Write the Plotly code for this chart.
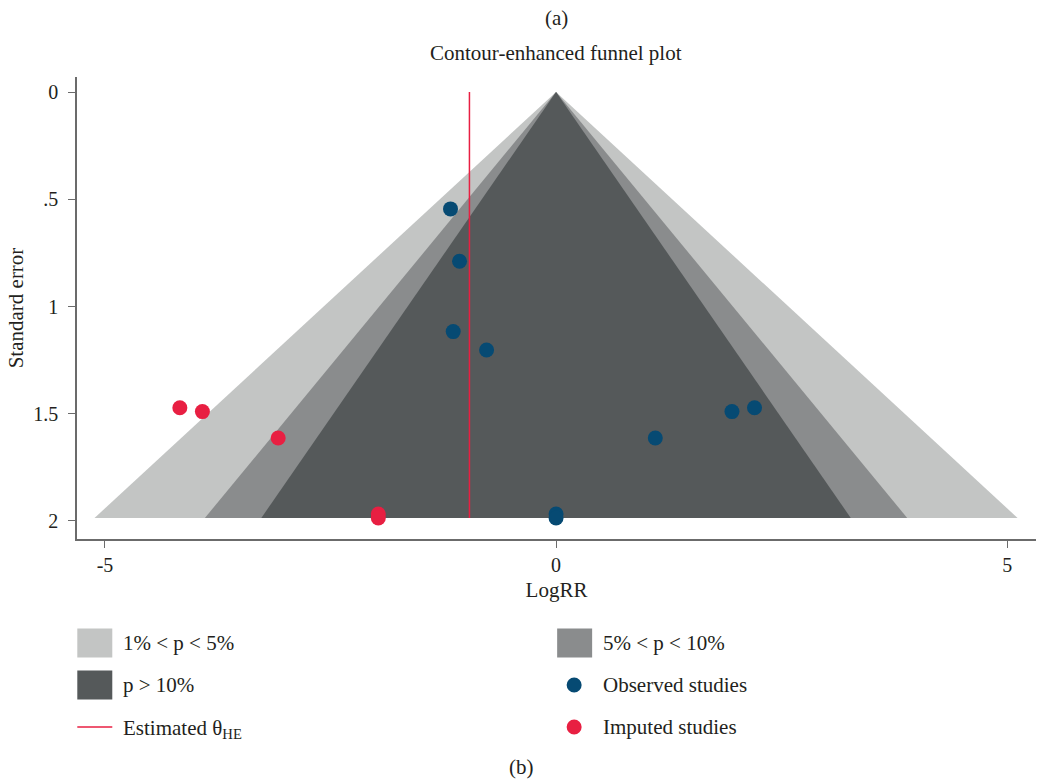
import plotly.graph_objects as go

# Observed studies (log risk ratio vs. standard error)
obs_logrr = [-1.17, -1.07, -1.14, -0.77, 1.10, 1.95, 2.20, 0.00, 0.00]
obs_se = [0.545, 0.789, 1.117, 1.203, 1.613, 1.490, 1.472, 1.968, 1.986]

# Studies imputed by trim-and-fill
imp_logrr = [-4.17, -3.92, -3.08, -1.97, -1.97]
imp_se = [1.472, 1.490, 1.613, 1.968, 1.986]

# Estimated overall effect and the funnel depth
theta_he = -0.96
se_max = 1.986

# Two-sided critical z values bounding the significance contours
contour_z = [2.576, 1.960, 1.645]
contour_colors = ["#c3c5c4", "#8a8c8d", "#55595a"]

y_ticks = [0, 0.5, 1, 1.5, 2]
y_ticktext = ["0", ".5", "1", "1.5", "2"]
x_ticks = [-5, 0, 5]
x_ticktext = ["-5", "0", "5"]

FONT = "Liberation Serif"
TXT = "#231f20"
AXIS = "#6b6b6b"
BLUE = "#064a73"
RED = "#e81f42"

fig = go.Figure()

# Contour regions, drawn from widest to narrowest
for z, col in zip(contour_z, contour_colors):
    fig.add_trace(go.Scatter(
        x=[0, -z * se_max, z * se_max, 0],
        y=[0, se_max, se_max, 0],
        mode="lines", fill="toself", fillcolor=col,
        line=dict(width=0, color=col), hoverinfo="skip", showlegend=False,
    ))

# Estimated effect line
fig.add_trace(go.Scatter(
    x=[theta_he, theta_he], y=[0, se_max], mode="lines",
    line=dict(color=RED, width=1.5), showlegend=False, hoverinfo="skip",
))

fig.add_trace(go.Scatter(
    x=obs_logrr, y=obs_se, mode="markers",
    marker=dict(color=BLUE, size=15, line=dict(width=0)), showlegend=False,
))
fig.add_trace(go.Scatter(
    x=imp_logrr, y=imp_se, mode="markers",
    marker=dict(color=RED, size=15, line=dict(width=0)), showlegend=False,
))

# Plot area in pixels
L, R, T, B = 76.7, 1036.0, 77.0, 539.0
W, H = R - L, B - T


def px(X):
    return (X - L) / W


def py(Y):
    return (B - Y) / H


shapes = []
annotations = []


def text(X, Y, s, size=21, xanchor="left"):
    annotations.append(dict(
        x=px(X), y=py(Y), xref="paper", yref="paper", text=s, showarrow=False,
        xanchor=xanchor, yanchor="middle", font=dict(family=FONT, size=size, color=TXT),
    ))


# Custom legend below the plot
def swatch(X0, Yc, col):
    shapes.append(dict(type="rect", xref="paper", yref="paper",
                       x0=px(X0), x1=px(X0 + 35), y0=py(Yc + 14.5), y1=py(Yc - 14.5),
                       fillcolor=col, line=dict(width=0)))


def dot(Xc, Yc, col, r=7.5):
    shapes.append(dict(type="circle", xref="paper", yref="paper",
                       x0=px(Xc - r), x1=px(Xc + r), y0=py(Yc + r), y1=py(Yc - r),
                       fillcolor=col, line=dict(width=0)))


row1, row2, row3 = 643, 685, 727
swatch(77, row1, contour_colors[0])
text(121, row1, "1% < p < 5%")
swatch(557, row1, contour_colors[1])
text(601, row1, "5% < p < 10%")
swatch(77, row2, contour_colors[2])
text(121, row2, "p > 10%")
dot(574, row2, BLUE)
text(601, row2, "Observed studies")
shapes.append(dict(type="line", xref="paper", yref="paper",
                   x0=px(77), x1=px(112), y0=py(row3), y1=py(row3),
                   line=dict(color=RED, width=1.5)))
text(121, row3 + 2, "Estimated θ<sub>HE</sub>")
dot(574, row3, RED)
text(601, row3, "Imputed studies")

# Panel labels and title
text(556, 18, "(a)", xanchor="center")
text(556, 53, "Contour-enhanced funnel plot", xanchor="center")
text(521, 767, "(b)", xanchor="center")

axis_common = dict(
    showline=True, linecolor=AXIS, linewidth=1.5, showgrid=False, zeroline=False,
    ticks="outside", ticklen=7, tickcolor=AXIS, tickwidth=1.2,
    tickfont=dict(family=FONT, size=20, color=TXT),
    title_font=dict(family=FONT, size=21, color=TXT),
)

fig.update_layout(
    width=1042, height=781,
    margin=dict(l=L, r=1042 - R, t=T, b=781 - B, pad=0),
    paper_bgcolor="white", plot_bgcolor="white",
    xaxis=dict(range=[-5.31, 5.32], tickvals=x_ticks, ticktext=x_ticktext,
               title=dict(text="LogRR", standoff=8), **axis_common),
    yaxis=dict(range=[2.084, -0.07], tickvals=y_ticks, ticktext=y_ticktext,
               title=dict(text="Standard error", standoff=4), ticklabelstandoff=6,
               **axis_common),
    shapes=shapes, annotations=annotations, showlegend=False,
)

fig.write_html("out.html")
